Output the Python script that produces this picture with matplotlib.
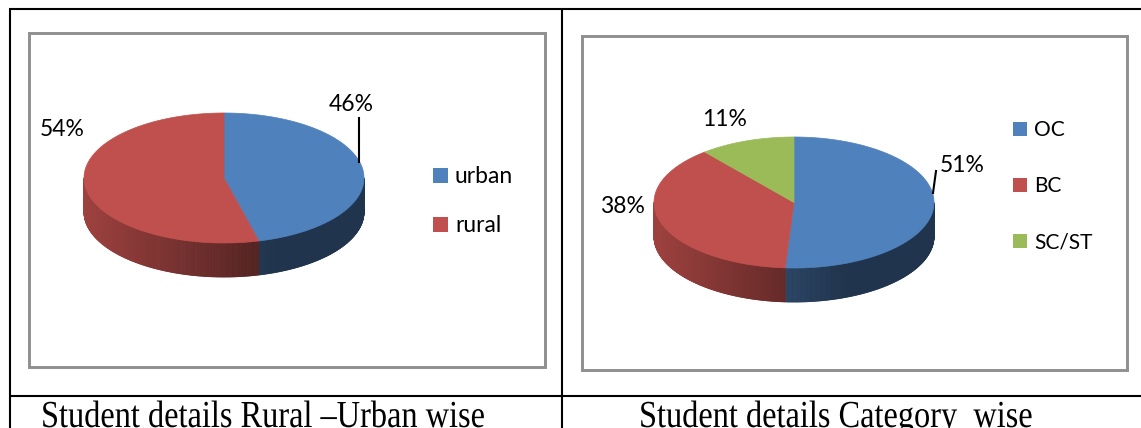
import numpy as np
import matplotlib
matplotlib.use("Agg")
from matplotlib import pyplot as plt
from matplotlib.patches import Polygon, Rectangle
from matplotlib.collections import PolyCollection
from matplotlib import patheffects
from matplotlib.transforms import Affine2D
from matplotlib.colors import to_rgb

## data
rural_urban_labels = ["urban", "rural"]
rural_urban_values = [46, 54]
category_labels = ["OC", "BC", "SC/ST"]
category_values = [51, 38, 11]
captions = ["Student details Rural \u2013Urban wise", "Student details Category  wise"]

blue = "#4F81BD"
red = "#C0504D"
green = "#9BBB59"

W, H = 1141, 428


class StretchY(patheffects.AbstractPathEffect):
    # makes the serif caption a bit taller, like the scanned document
    def __init__(self, sy, y0):
        super().__init__()
        self.sy = sy
        self.y0 = y0

    def draw_path(self, renderer, gc, tpath, affine, rgbFace=None):
        t = affine + Affine2D().translate(0, -self.y0).scale(1, self.sy).translate(0, self.y0)
        renderer.draw_path(gc, tpath, t, rgbFace)


def shade(color, x, left, width):
    t = (x - left) / width
    f = max(0.41, 0.82 - 0.62 * t)
    r, g, b = to_rgb(color)
    return (r * f, g * f, b * f)


def pie3d(ax, values, colors, cx, cy, a, b, depth):
    total = float(sum(values))
    cum = np.concatenate([[0], np.cumsum(values)]) / total
    polys, fcs = [], []
    tops = []
    for i, c in enumerate(colors):
        s0 = 90 - 360 * cum[i]
        s1 = 90 - 360 * cum[i + 1]
        th = np.radians(np.linspace(s0, s1, 400))
        xs = cx + a * np.cos(th)
        ys = cy - b * np.sin(th)
        tops.append((np.column_stack([np.r_[cx, xs], np.r_[cy, ys]]), c))
        # visible side wall, made of thin strips for the shading
        for k in range(len(th) - 1):
            if np.sin((th[k] + th[k + 1]) / 2) >= 0:
                continue
            x0, x1 = xs[k], xs[k + 1]
            y0, y1 = ys[k], ys[k + 1]
            polys.append([(x0, y0), (x1, y1), (x1, y1 + depth), (x0, y0 + depth)])
            fcs.append(shade(c, (x0 + x1) / 2, cx - a, 2 * a))
    ax.add_collection(PolyCollection(polys, facecolors=fcs, edgecolors=fcs, linewidths=0.6))
    for pts, c in tops:
        ax.add_patch(Polygon(pts, closed=True, facecolor=c, edgecolor=c, lw=0.5))


def legend(ax, labels, colors, x, baselines, size, fs):
    for lab, c, yb in zip(labels, colors, baselines):
        ax.add_patch(Rectangle((x, yb - size), size, size, facecolor=c, edgecolor="none"))
        ax.text(x + size + 7, yb, lab, fontsize=fs, family="Lato", va="baseline", ha="left")


fig = plt.figure(figsize=(W / 100, H / 100), dpi=100)
ax = fig.add_axes([0, 0, 1, 1])
ax.set_xlim(0, W)
ax.set_ylim(H, 0)
ax.axis("off")

## table lines
lk = dict(color="black", lw=1.5, solid_capstyle="butt")
ax.plot([9, W], [9.3, 9.3], **lk)
ax.plot([9.5, 9.5], [9, H], **lk)
ax.plot([562, 562], [9, H], **lk)
ax.plot([9, W], [396, 396], **lk)

## chart frames
for (x0, y0, x1, y1) in [(28.5, 32.5, 544.5, 366.5), (581.5, 35.5, 1126.5, 369.5)]:
    ax.add_patch(Rectangle((x0, y0), x1 - x0, y1 - y0, facecolor="white",
                           edgecolor="#8f8f8f", lw=2.1))

## left chart
pie3d(ax, rural_urban_values, [blue, red], 224, 178, 140, 65, 34)
label_pos_1 = [(351, 111), (62, 136)]
for v, (x, y) in zip(rural_urban_values, label_pos_1):
    ax.text(x, y, f"{v}%", fontsize=16.5, family="Lato", ha="center", va="baseline")
ax.plot([359, 359], [118, 162], color="black", lw=1.5)
legend(ax, rural_urban_labels, [blue, red], 433, [183, 232], 15, 16.5)

## right chart
pie3d(ax, category_values, [blue, red, green], 794, 202.5, 140, 65.5, 34)
label_pos_2 = [(962, 172), (622, 213), (725, 126)]
for v, (x, y) in zip(category_values, label_pos_2):
    ax.text(x, y, f"{v}%", fontsize=16.5, family="Lato", ha="center", va="baseline")
ax.plot([936, 933], [171, 193], color="black", lw=1.5)
legend(ax, category_labels, [blue, red, green], 1013, [136, 192, 248], 14, 15)

## captions
for txt, x in zip(captions, [41, 639]):
    ax.text(x, 427, txt, fontsize=23.3, family="Liberation Serif", ha="left", va="baseline",
            path_effects=[StretchY(1.18, H - 427)])

fig.savefig("out.png", dpi=100)
